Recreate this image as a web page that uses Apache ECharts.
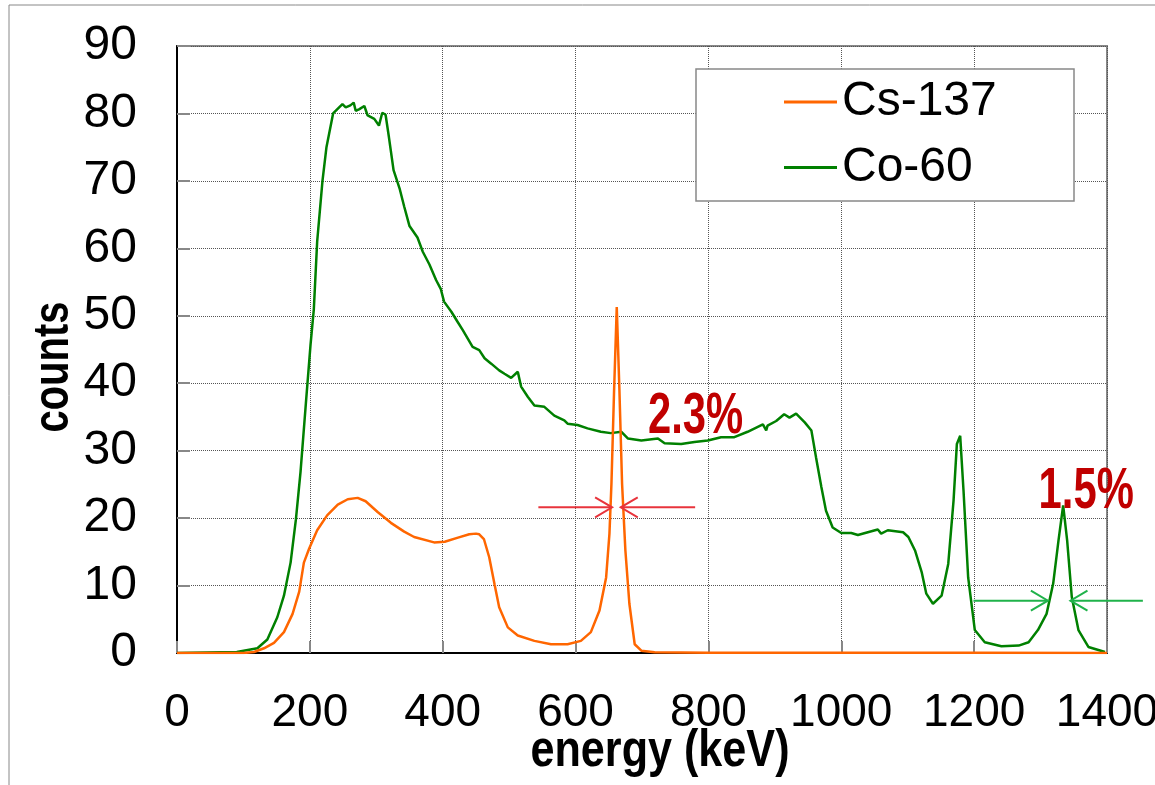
<!DOCTYPE html>
<html>
<head>
<meta charset="utf-8">
<script src="https://cdn.jsdelivr.net/npm/echarts@6/dist/echarts.min.js"></script>
<style>
html,body{margin:0;padding:0;background:#fff;}
#chart{width:1155px;height:785px;}
</style>
</head>
<body>
<div id="chart"></div>
<script>
// ---- data ----
const seriesNames = ['Cs-137', 'Co-60'];
const xTicks = [0, 200, 400, 600, 800, 1000, 1200, 1400];
const yTicks = [0, 10, 20, 30, 40, 50, 60, 70, 80, 90];

const csEnergy = [0,100,116,131,146,161,174,184,191,199,211,226,242,257,272,284,302,322,342,357,387,403,423,440,450,455,462,470,478,485,498,513,538,563,588,608,623,636,646,651,654,658,662,666,670,675,681,689,699,719,800,1000,1200,1400];
const csCounts = [0,0,0.15,0.7,1.5,3.1,5.8,9.1,13.4,15.5,18.2,20.4,22,22.8,23,22.5,20.9,19.3,18,17.2,16.4,16.5,17.1,17.6,17.7,17.6,16.9,14.2,10.2,6.8,3.8,2.6,1.8,1.3,1.3,1.8,3.1,6.3,11.2,17.7,25.1,39,51.3,39,25.1,15.2,7.3,1.3,0.35,0.1,0.05,0.05,0.03,0];

const coEnergy = [0,90,121,136,151,161,171,179,186,194,201,206,211,219,225,235,249,254,261,266,269,274,282,287,297,304,309,314,319,326,335,342,350,362,370,380,390,397,402,413,423,430,445,455,463,473,485,493,503,513,518,528,538,553,568,583,588,603,618,638,653,669,679,699,724,734,759,779,799,819,839,859,882,887,889,902,914,922,932,945,955,962,970,977,987,1000,1015,1025,1040,1055,1060,1070,1093,1101,1111,1121,1128,1138,1151,1161,1169,1174,1179,1184,1191,1201,1216,1241,1267,1282,1296,1309,1319,1327,1334,1340,1347,1357,1372,1397];
const coCounts = [0,0.15,0.7,2,5.3,8.5,13.4,19.8,26.9,37,45.7,51,61,70,75,80,81.4,80.9,81.2,81.6,80.4,80.6,81.1,79.7,79.2,78.2,80.1,79.8,76.5,71.6,68.9,66.2,63.3,61.6,59.5,57.6,55.3,54,52.1,50.6,49,47.9,45.4,44.9,43.7,42.9,41.9,41.4,40.8,41.7,39.5,38,36.7,36.5,35.2,34.5,34,33.8,33.3,32.8,32.6,32.8,31.8,31.5,31.8,31.1,31,31.3,31.5,32,32,32.8,33.9,33,33.7,34.4,35.4,34.9,35.5,34.2,33,29,24.6,21.1,18.6,17.8,17.8,17.5,17.9,18.3,17.7,18.2,17.9,17.2,15.2,12,8.8,7.3,8.5,13.2,22.6,31,32.2,24.1,11.2,3.4,1.6,1,1.1,1.6,3.4,5.8,10.3,16.7,21.9,16.7,8.3,3.4,0.9,0.15];

// annotation values (data coordinates)
const csArrowY = 21.6;
const csArrowLeft = [544, 655];   // tail, head
const csArrowRight = [780, 668];  // tail, head
const csLabel = {text: '2.3%', x: 709, y: 35.0};
const coArrowY = 7.75;
const coArrowLeft = [1199, 1311];
const coArrowRight = [1454, 1345];
const coLabel = {text: '1.5%', x: 1297, y: 23.8};

// ---- chart ----
const FONT = '"Liberation Sans Narrow", "Liberation Sans", Arial, sans-serif';
const chart = echarts.init(document.getElementById('chart'), null, {renderer: 'canvas'});

function pairs(xs, ys) { return xs.map((x, i) => [x, ys[i]]); }

const option = {
  animation: false,
  backgroundColor: '#fff',
  grid: {left: 177, right: 48, top: 46, bottom: 132, show: true, borderColor: '#888', borderWidth: 2,
         backgroundColor: 'transparent', outerBoundsMode: 'none', containLabel: false},
  legend: {
    orient: 'vertical', left: 784, top: 74, padding: 0,
    itemWidth: 53, itemHeight: 3, itemGap: 9.6, icon: 'rect',
    textStyle: {fontFamily: FONT, fontSize: 48, color: '#000', lineHeight: 56},
    data: seriesNames, z: 10
  },
  xAxis: {
    type: 'value', min: xTicks[0], max: xTicks[xTicks.length - 1], interval: 200,
    axisLine: {lineStyle: {color: '#000', width: 2}},
    axisTick: {show: true, inside: true, length: 12, lineStyle: {color: '#888', width: 2}},
    splitLine: {show: true, lineStyle: {color: '#555', type: 'dotted', width: 1}},
    axisLabel: {fontFamily: FONT, fontSize: 46, color: '#000', margin: 37,
      formatter: v => xTicks.includes(v) ? String(v) : ''}
  },
  yAxis: {
    type: 'value', min: yTicks[0], max: yTicks[yTicks.length - 1], interval: 10,
    axisLine: {show: true, lineStyle: {color: '#000', width: 2}},
    axisTick: {show: true, inside: true, length: 13, lineStyle: {color: '#888', width: 2}},
    splitLine: {show: true, lineStyle: {color: '#555', type: 'dotted', width: 1}},
    axisLabel: {fontFamily: FONT, fontSize: 48, color: '#000', margin: 40,
      formatter: v => yTicks.includes(v) ? String(v) : ''}
  },
  series: [
    {name: seriesNames[0], type: 'line', data: pairs(csEnergy, csCounts), showSymbol: false, symbol: 'none',
     lineStyle: {color: '#ff6600', width: 2.5}, itemStyle: {color: '#ff6600'}, z: 3},
    {name: seriesNames[1], type: 'line', data: pairs(coEnergy, coCounts), showSymbol: false, symbol: 'none',
     lineStyle: {color: '#008000', width: 2.5}, itemStyle: {color: '#008000'}, z: 2}
  ]
};
chart.setOption(option);

function px(x, y) { return chart.convertToPixel({gridIndex: 0}, [x, y]); }

function arrow(tailX, headX, yv, color) {
  const t = px(tailX, yv), h = px(headX, yv);
  const dir = Math.sign(h[0] - t[0]);
  const back = 17 * dir;
  return [
    {type: 'line', shape: {x1: t[0], y1: t[1], x2: h[0], y2: h[1]}, style: {stroke: color, lineWidth: 2}, z: 100},
    {type: 'polyline', shape: {points: [[h[0] - back, h[1] - 10], [h[0], h[1]], [h[0] - back, h[1] + 10]]}, style: {stroke: color, lineWidth: 2, fill: null}, z: 100}
  ];
}

const csL = px(csLabel.x, csLabel.y);
const coL = px(coLabel.x, coLabel.y);

const graphics = [
  // outer frame
  {type: 'rect', shape: {x: 9, y: 5, width: 1300, height: 900}, style: {fill: null, stroke: '#888', lineWidth: 1}, z: 0, silent: true},
  // legend box
  {type: 'rect', shape: {x: 696, y: 69, width: 378, height: 132}, style: {fill: '#fff', stroke: '#888', lineWidth: 1.5}, z: 5},
  // axis titles
  {type: 'text', x: 54, y: 367, rotation: Math.PI / 2, scaleX: 0.8,
   style: {text: 'counts', font: 'bold 50px ' + FONT, fill: '#000', textAlign: 'center', textVerticalAlign: 'middle'}, z: 50},
  {type: 'text', x: 660, y: 752, scaleX: 0.83,
   style: {text: 'energy (keV)', font: 'bold 52px ' + FONT, fill: '#000', textAlign: 'center', textVerticalAlign: 'middle'}, z: 50},
  // percentage labels
  {type: 'text', x: csL[0], y: csL[1], scaleX: 0.72,
   style: {text: csLabel.text, font: 'bold 58px ' + FONT, fill: '#c00000', textAlign: 'left', textVerticalAlign: 'middle'}, z: 60},
  {type: 'text', x: coL[0], y: coL[1], scaleX: 0.72,
   style: {text: coLabel.text, font: 'bold 58px ' + FONT, fill: '#c00000', textAlign: 'left', textVerticalAlign: 'middle'}, z: 60}
].concat(
  arrow(csArrowLeft[0], csArrowLeft[1], csArrowY, '#e8343c'),
  arrow(csArrowRight[0], csArrowRight[1], csArrowY, '#e8343c'),
  arrow(coArrowLeft[0], coArrowLeft[1], coArrowY, '#1fb24a'),
  arrow(coArrowRight[0], coArrowRight[1], coArrowY, '#1fb24a')
);

chart.setOption({graphic: graphics});
</script>
</body>
</html>
